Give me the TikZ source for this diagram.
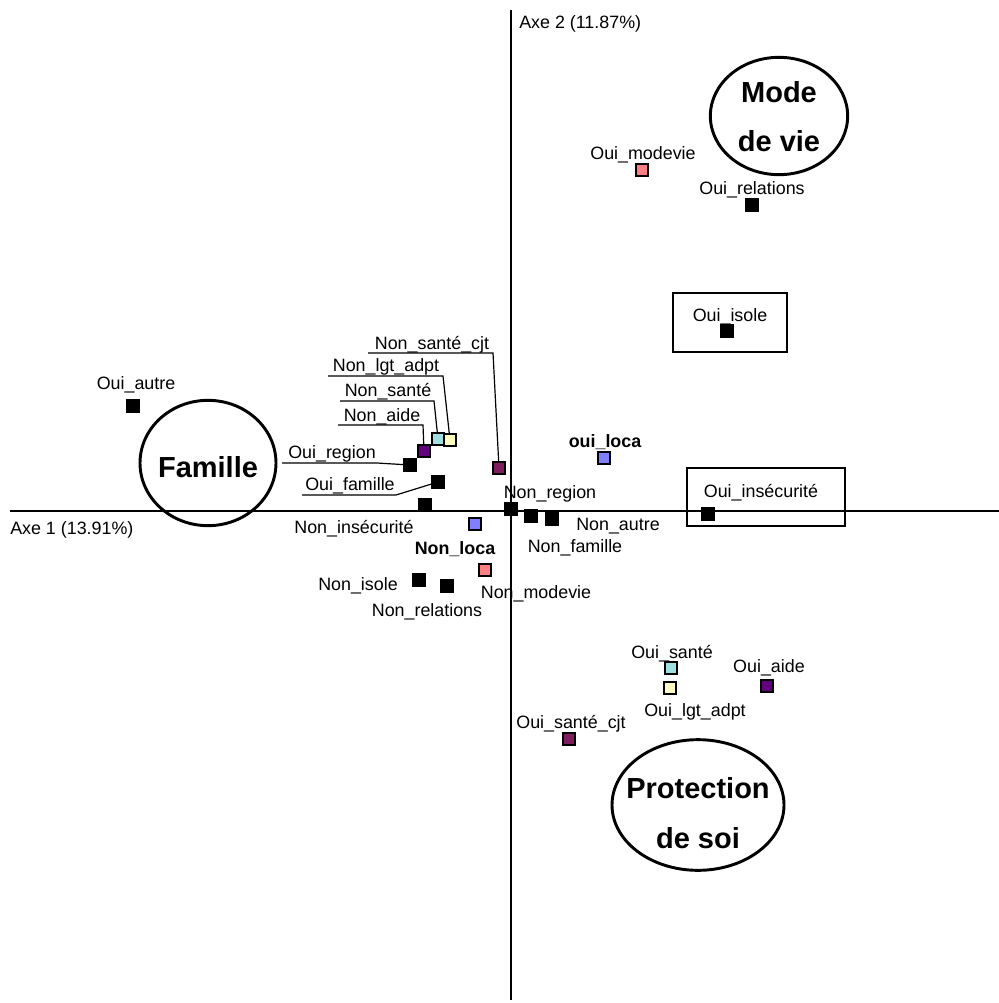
\documentclass[tikz,border=0pt]{standalone}
\usepackage{fontspec}
\setmainfont{Liberation Sans}
\usetikzlibrary{shapes.geometric}
\definecolor{salmonC}{HTML}{FF8080}
\definecolor{blueC}{HTML}{8080FF}
\definecolor{cyanC}{HTML}{9EDFDF}
\definecolor{yellowC}{HTML}{FFFFC0}
\definecolor{purpleC}{HTML}{62007E}
\definecolor{magentaC}{HTML}{7E1E5E}
\tikzset{
  lbl/.style={inner sep=0pt, anchor=base, font=\fontsize{13.4}{15}\selectfont},
  lblb/.style={lbl, font=\fontsize{13.4}{15}\selectfont\bfseries},
  big/.style={inner sep=0pt, anchor=base, font=\fontsize{21.75}{26}\selectfont\bfseries},
  mk/.style={rectangle, draw=black, line width=0.8pt, minimum size=9pt, inner sep=0pt, fill=#1},
  mk/.default=black,
  circ/.style={ellipse, draw=black, line width=2.2pt, inner sep=0pt},
  boxst/.style={rectangle, draw=black, line width=1.1pt, inner sep=0pt},
  axis/.style={line width=1.1pt},
  lead/.style={line width=0.9pt}
}
\begin{document}
\begin{tikzpicture}[x=0.75pt,y=-0.75pt]
\useasboundingbox (0,0) rectangle (999,1003);
% axes
\coordinate (axL) at (10,511);
\coordinate (axR) at (999,511);
\coordinate (axT) at (511,10);
\coordinate (axB) at (511,1000);
\draw[axis] (axL) -- (axR);
\draw[axis] (axT) -- (axB);
\node[lbl, anchor=base west] (ax2) at (519,28) {Axe 2 (11.87\%)};
\node[lbl, anchor=base west] (ax1) at (10,534) {Axe 1 (13.91\%)};

% group ellipses
\node[circ, minimum width=102pt, minimum height=94pt] (cFam) at (208,463) {};
\node[big] (tFam) at (208,477) {Famille};
\node[circ, minimum width=103pt, minimum height=88pt] (cMode) at (779,116) {};
\node[big] (tMode1) at (779,102) {Mode};
\node[big] (tMode2) at (779,151) {de vie};
\node[circ, minimum width=129pt, minimum height=98pt] (cProt) at (698,805) {};
\node[big] (tProt1) at (698,798) {Protection};
\node[big] (tProt2) at (698,848) {de soi};

% boxes
\node[boxst, minimum width=118.5pt, minimum height=43.5pt] (bInsec) at (766,497) {};
\node[boxst, minimum width=85.5pt, minimum height=44.25pt] (bIsole) at (730,322.5) {};

% markers
\node[mk] (mOuiAutre) at (133,406) {};
\node[mk] (mOuiRegion) at (410,465) {};
\node[mk=purpleC] (mNonAide) at (424,451) {};
\node[mk=cyanC] (mNonSante) at (438,439) {};
\node[mk=yellowC] (mNonLgt) at (450,440) {};
\node[mk=magentaC] (mNonSanteCjt) at (499,468) {};
\node[mk] (mOuiFamille) at (438,482) {};
\node[mk] (mNonInsec) at (425,505) {};
\node[mk] (mNonRegion) at (511,509) {};
\node[mk] (mNonFamille) at (531,516) {};
\node[mk] (mNonAutre) at (552,519) {};
\node[mk=blueC] (mNonLoca) at (475,524) {};
\node[mk=salmonC] (mNonModevie) at (485,570) {};
\node[mk] (mNonIsole) at (419,580) {};
\node[mk] (mNonRelations) at (447,586) {};
\node[mk=blueC] (mOuiLoca) at (604,458) {};
\node[mk] (mOuiInsec) at (708,514) {};
\node[mk] (mOuiIsole) at (727,331) {};
\node[mk=salmonC] (mOuiModevie) at (642,170) {};
\node[mk] (mOuiRelations) at (752,205) {};
\node[mk=cyanC] (mOuiSante) at (671,668) {};
\node[mk=yellowC] (mOuiLgt) at (670,688) {};
\node[mk=purpleC] (mOuiAide) at (767,686) {};
\node[mk=magentaC] (mOuiSanteCjt) at (569,739) {};

% labels
\node[lbl] (lOuiAutre) at (136,389) {Oui\_autre};
\node[lbl] (lOuiRegion) at (332,458) {Oui\_region};
\node[lbl] (lNonAide) at (382,421) {Non\_aide};
\node[lbl] (lNonSante) at (388,396) {Non\_santé};
\node[lbl] (lNonLgt) at (386,371) {Non\_lgt\_adpt};
\node[lbl] (lNonSanteCjt) at (432,349) {Non\_santé\_cjt};
\node[lbl] (lOuiFamille) at (350,490) {Oui\_famille};
\node[lbl] (lNonInsec) at (354,533) {Non\_insécurité};
\node[lbl] (lNonRegion) at (550,498) {Non\_region};
\node[lbl] (lNonFamille) at (575,552) {Non\_famille};
\node[lbl] (lNonAutre) at (618,530) {Non\_autre};
\node[lblb] (lNonLoca) at (455,554) {Non\_loca};
\node[lbl] (lNonModevie) at (536,598) {Non\_modevie};
\node[lbl] (lNonIsole) at (358,590) {Non\_isole};
\node[lbl] (lNonRelations) at (427,616) {Non\_relations};
\node[lblb] (lOuiLoca) at (605,447) {oui\_loca};
\node[lbl] (lOuiInsec) at (761,497) {Oui\_insécurité};
\node[lbl] (lOuiIsole) at (730,321) {Oui\_isole};
\node[lbl] (lOuiModevie) at (643,159) {Oui\_modevie};
\node[lbl] (lOuiRelations) at (752,194) {Oui\_relations};
\node[lbl] (lOuiSante) at (672,658) {Oui\_santé};
\node[lbl] (lOuiLgt) at (695,716) {Oui\_lgt\_adpt};
\node[lbl] (lOuiAide) at (769,672) {Oui\_aide};
\node[lbl] (lOuiSanteCjt) at (571,728) {Oui\_santé\_cjt};

% underlines and leaders
\coordinate (uRegA) at (282,463); \coordinate (uRegB) at (377,463);
\draw[lead] (uRegA) -- (uRegB) -- (mOuiRegion);
\coordinate (uAideA) at (338,425); \coordinate (uAideB) at (423,425);
\draw[lead] (uAideA) -- (uAideB) -- (mNonAide);
\coordinate (uSanA) at (340,401); \coordinate (uSanB) at (434,401);
\draw[lead] (uSanA) -- (uSanB) -- (mNonSante);
\coordinate (uLgtA) at (328,376); \coordinate (uLgtB) at (443,376);
\draw[lead] (uLgtA) -- (uLgtB) -- (mNonLgt);
\coordinate (uCjtA) at (368,353); \coordinate (uCjtB) at (493,353);
\draw[lead] (uCjtA) -- (uCjtB) -- (mNonSanteCjt);
\coordinate (uFamA) at (302,495); \coordinate (uFamB) at (396,495);
\draw[lead] (uFamA) -- (uFamB) -- (mOuiFamille);
\end{tikzpicture}
\end{document}
